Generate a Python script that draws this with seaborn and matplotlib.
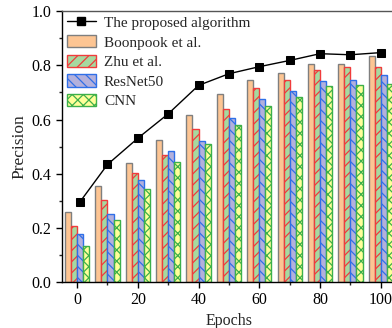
import seaborn as sns
import matplotlib.pyplot as plt
import matplotlib.patches as mpatches
from matplotlib.lines import Line2D
from matplotlib.ticker import MultipleLocator
import numpy as np
import pandas as pd

epochs = [0, 10, 20, 30, 40, 50, 60, 70, 80, 90, 100]
line_epochs = [1, 10, 20, 30, 40, 50, 60, 70, 80, 90, 100]
proposed = [0.297, 0.434, 0.531, 0.621, 0.726, 0.769, 0.795, 0.818, 0.843, 0.839, 0.847]
boonpook = [0.258, 0.355, 0.439, 0.524, 0.615, 0.694, 0.747, 0.772, 0.805, 0.806, 0.833]
zhu = [0.206, 0.302, 0.402, 0.470, 0.566, 0.640, 0.716, 0.746, 0.784, 0.794, 0.795]
resnet = [0.177, 0.250, 0.375, 0.482, 0.522, 0.607, 0.677, 0.704, 0.741, 0.747, 0.764]
cnn = [0.133, 0.228, 0.344, 0.443, 0.510, 0.578, 0.650, 0.683, 0.722, 0.727, 0.731]

methods = ["Boonpook et al.", "Zhu et al.", "ResNet50", "CNN"]
face = ["#FDC593", "#A6D9A0", "#B3B0DC", "#FFFF99"]
edge = ["#7F7F7F", "#F03C3C", "#2F6FE8", "#3DB04A"]
hatches = [None, "///", "\\\\\\", "xxx"]

df = pd.DataFrame({
    "Epochs": epochs * 4,
    "Precision": boonpook + zhu + resnet + cnn,
    "Method": np.repeat(methods, len(epochs)),
})

sns.set_style("ticks")
plt.rcParams['font.family'] = ['Liberation Serif', 'DejaVu Serif']
plt.rcParams['hatch.linewidth'] = 0.9

fig = plt.figure(figsize=(3.92, 3.28), dpi=100)
ax = fig.add_axes([0.158, 0.140, 0.852, 0.826])

sns.barplot(data=df, x="Epochs", y="Precision", hue="Method", native_scale=True,
            palette=face, saturation=1, legend=False, ax=ax, linewidth=1)
for cont, fc, ec, h in zip(ax.containers, face, edge, hatches):
    for bar in cont:
        bar.set_facecolor(fc)
        bar.set_edgecolor(ec)
        bar.set_linewidth(1)
        if h:
            bar.set_hatch(h)

sns.lineplot(x=line_epochs, y=proposed, color="black", marker="s", markersize=5.5,
             markeredgecolor="black", linewidth=1, ax=ax, legend=False, zorder=5)

ax.set_xlim(-5, 105)
ax.set_ylim(0, 1.0)
ax.xaxis.set_major_locator(MultipleLocator(20))
ax.xaxis.set_minor_locator(MultipleLocator(10))
ax.yaxis.set_major_locator(MultipleLocator(0.2))
ax.yaxis.set_minor_locator(MultipleLocator(0.1))
ax.yaxis.set_major_formatter(plt.FormatStrFormatter('%.1f'))
ax.tick_params(which="major", direction="out", length=4, width=1, labelsize=11.5, colors="black")
ax.tick_params(which="minor", direction="out", length=2.5, width=1)
for s in ax.spines.values():
    s.set_linewidth(1)
    s.set_color("black")
ax.spines["top"].set_color("#555555")

ax.set_xlabel("Epochs", fontsize=11.5, labelpad=3)
ax.set_ylabel("Precision", fontsize=12.5, labelpad=3)

handles = [Line2D([], [], color="black", marker="s", markersize=5.5, linewidth=1)]
for fc, ec, h in zip(face, edge, hatches):
    handles.append(mpatches.Patch(facecolor=fc, edgecolor=ec, hatch=h, linewidth=1))
ax.legend(handles, ["The proposed algorithm"] + methods, loc="upper left", frameon=False,
          fontsize=11, handlelength=1.95, handleheight=0.85, labelspacing=0.34,
          handletextpad=0.5, borderaxespad=0.15, borderpad=0.15)

plt.savefig("out.png", dpi=100)
